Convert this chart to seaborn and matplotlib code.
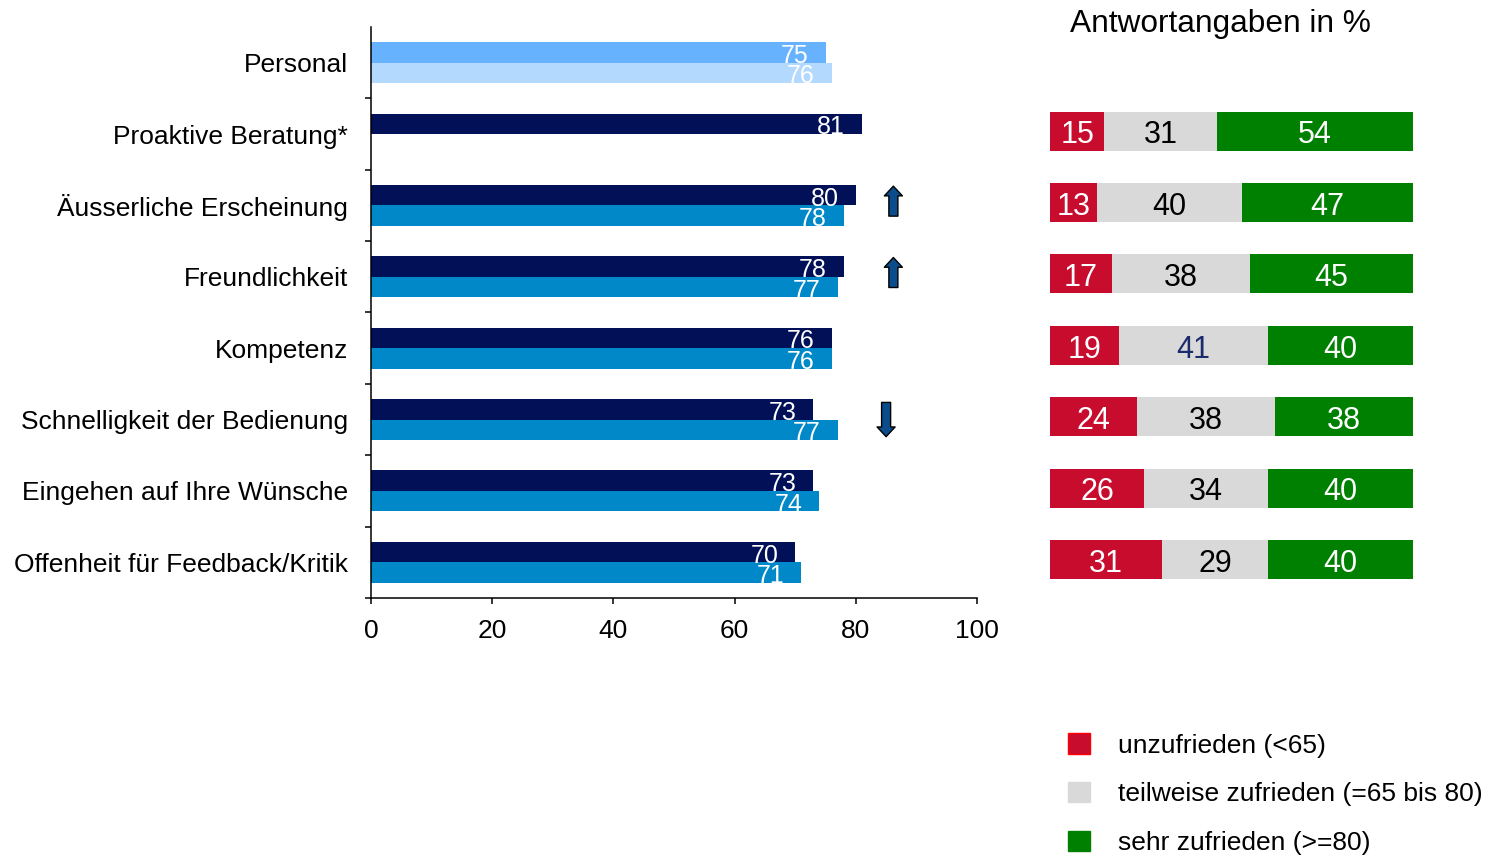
import numpy as np
import pandas as pd
import seaborn as sns
import matplotlib.pyplot as plt
from matplotlib.patches import Patch, FancyArrowPatch, ArrowStyle

# Mittelwerte (aktuell / Vorjahr)
categories = ["Personal", "Proaktive Beratung*", "Äusserliche Erscheinung",
              "Freundlichkeit", "Kompetenz", "Schnelligkeit der Bedienung",
              "Eingehen auf Ihre Wünsche", "Offenheit für Feedback/Kritik"]
aktuell = [75, 81, 80, 78, 76, 73, 73, 70]
vorjahr = [76, np.nan, 78, 77, 76, 77, 74, 71]
trend = ["", "", "up", "up", "", "down", "", ""]

# Antwortangaben in %
rating_cats = categories[1:]
unzufrieden = [15, 13, 17, 19, 24, 26, 31]
teilweise = [31, 40, 38, 41, 38, 34, 29]
sehr = [54, 47, 45, 40, 38, 40, 40]

navy = "#021157"
blue = "#0088C8"
pers_1 = "#66B2FF"
pers_2 = "#B3D9FF"
red = "#C80C2E"
grey = "#D9D9D9"
green = "#008000"

sns.set_style("ticks")
plt.rcParams["font.family"] = ["Liberation Sans", "DejaVu Sans"]
plt.rcParams.update({"text.color": "black", "axes.labelcolor": "black",
                     "xtick.color": "black", "ytick.color": "black",
                     "axes.edgecolor": "black"})

fig = plt.figure(figsize=(14.98, 8.56), dpi=100)
ax = fig.add_axes([0.2477, 0.3014, 0.4045, 0.6671])
ax2 = fig.add_axes([0.7009, 0.3014, 0.2423, 0.6671])

df = pd.DataFrame({
    "Kategorie": categories * 2,
    "Wert": aktuell + vorjahr,
    "Serie": ["aktuell"] * len(categories) + ["vorjahr"] * len(categories),
}).dropna()

sns.barplot(data=df, x="Wert", y="Kategorie", hue="Serie", order=categories,
            hue_order=["aktuell", "vorjahr"], palette=[navy, blue], orient="h",
            width=0.575, saturation=1, errorbar=None, legend=False,
            linewidth=0, ax=ax)

for p in ax.patches:
    yc = p.get_y() + p.get_height() / 2
    if abs(yc) < 0.5:  # Personal hat eigene Farben
        p.set_facecolor(pers_1 if yc < 0 else pers_2)
    w = p.get_width()
    ax.text(w - 2.8, yc + 0.05, f"{w:.0f}", ha="right", va="center",
            color="white", fontsize=18)

# Trendpfeile
for i, t in enumerate(trend):
    if t == "up":
        start, end, xa = i + 0.15, i - 0.27, 86.2
    elif t == "down":
        start, end, xa = i - 0.24, i + 0.24, 85.0
    else:
        continue
    arr = FancyArrowPatch((xa, start), (xa, end),
                          arrowstyle=ArrowStyle.Simple(head_length=7, head_width=13, tail_width=6.5),
                          mutation_scale=1, shrinkA=0, shrinkB=0,
                          fc="#0B4C8C", ec="black", lw=1, clip_on=False)
    ax.add_patch(arr)

ax.set_xlim(0, 100)
ax.set_ylim(len(categories) - 0.5, -0.5)
ax.set_xticks(range(0, 101, 20))
ax.set_yticks(np.arange(0.5, len(categories), 1))
ax.set_yticklabels([])
ax.set_yticks(range(len(categories)), minor=True)
ax.set_yticklabels(categories, minor=True)
ax.tick_params(axis="y", which="minor", length=0, pad=16.5, labelsize=19)
ax.tick_params(axis="y", which="major", length=4, width=1.1, direction="out")
ax.tick_params(axis="x", length=4.3, width=1.1, pad=11, labelsize=19)
ax.set_xlabel("")
ax.set_ylabel("")
for s in ["top", "right"]:
    ax.spines[s].set_visible(False)
for s in ["left", "bottom"]:
    ax.spines[s].set_linewidth(1.1)

# gestapelte Balken rechts
dfr = pd.DataFrame({"Kategorie": rating_cats, "rot": unzufrieden,
                    "grau": teilweise, "gruen": sehr})
dfr["bis_grau"] = dfr["rot"] + dfr["grau"]
dfr["gesamt"] = dfr["bis_grau"] + dfr["gruen"]

for col, c in [("gesamt", green), ("bis_grau", grey), ("rot", red)]:
    sns.barplot(data=dfr, x=col, y="Kategorie", order=categories, color=c,
                orient="h", width=0.545, saturation=1, errorbar=None,
                linewidth=0, ax=ax2)

for _, r in dfr.iterrows():
    yi = categories.index(r["Kategorie"]) + 0.06
    ax2.text(r["rot"] / 2, yi, f"{r['rot']}", ha="center", va="center",
             color="white", fontsize=22)
    ax2.text(r["rot"] + r["grau"] / 2, yi, f"{r['grau']}", ha="center", va="center",
             color="#1A2A6C" if r["Kategorie"] == "Kompetenz" else "black", fontsize=22)
    ax2.text(r["bis_grau"] + r["gruen"] / 2, yi, f"{r['gruen']}", ha="center",
             va="center", color="white", fontsize=22)

ax2.set_xlim(0, 100)
ax2.set_ylim(len(categories) - 0.5 + 0.04, -0.5 + 0.04)
ax2.axis("off")

fig.text(0.7143, 0.972, "Antwortangaben in %", ha="left", va="center", fontsize=22.8)

handles = [Patch(facecolor=red, edgecolor="#FF0000", linewidth=1, label="unzufrieden (<65)"),
           Patch(facecolor=grey, edgecolor=grey, label="teilweise zufrieden (=65 bis 80)"),
           Patch(facecolor=green, edgecolor=green, label="sehr zufrieden (>=80)")]
fig.legend(handles=handles, loc="upper left", bbox_to_anchor=(1068 / 1498, 1 - 733 / 856),
           frameon=False, fontsize=19, handlelength=0.83, handleheight=0.83,
           handletextpad=1.06, labelspacing=0.92, borderpad=0, borderaxespad=0)

fig.savefig("out.png", dpi=100)
